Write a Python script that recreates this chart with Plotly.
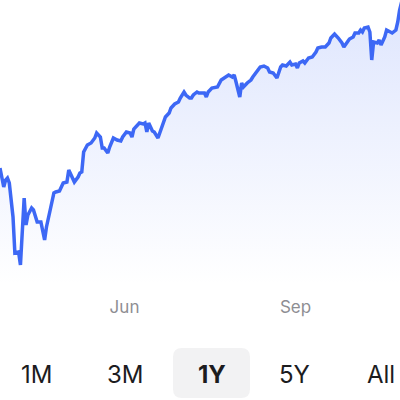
import plotly.graph_objects as go

# price history (daily closes, roughly)
dates = [
    "2024-03-26", "2024-03-28", "2024-03-29", "2024-03-30", "2024-03-31",
    "2024-04-01", "2024-04-02", "2024-04-03", "2024-04-05", "2024-04-06",
    "2024-04-08", "2024-04-09", "2024-04-10", "2024-04-12", "2024-04-13",
    "2024-04-15", "2024-04-17", "2024-04-19", "2024-04-20", "2024-04-22",
    "2024-04-24", "2024-04-25", "2024-04-27", "2024-04-29", "2024-05-01",
    "2024-05-02", "2024-05-04", "2024-05-05", "2024-05-07", "2024-05-08",
    "2024-05-09", "2024-05-10", "2024-05-12", "2024-05-14", "2024-05-16",
    "2024-05-17", "2024-05-19", "2024-05-20", "2024-05-21", "2024-05-23",
    "2024-05-24", "2024-05-26", "2024-05-28", "2024-05-30", "2024-05-31",
    "2024-06-02", "2024-06-04", "2024-06-05", "2024-06-06", "2024-06-07",
    "2024-06-09", "2024-06-11", "2024-06-12", "2024-06-13", "2024-06-14",
    "2024-06-16", "2024-06-17", "2024-06-19", "2024-06-21", "2024-06-23",
    "2024-06-25", "2024-06-26", "2024-06-28", "2024-06-30", "2024-07-01",
    "2024-07-03", "2024-07-04", "2024-07-06", "2024-07-07", "2024-07-08",
    "2024-07-10", "2024-07-11", "2024-07-12", "2024-07-14", "2024-07-15",
    "2024-07-16", "2024-07-18", "2024-07-20", "2024-07-21", "2024-07-23",
    "2024-07-25", "2024-07-27", "2024-07-29", "2024-07-30", "2024-07-31",
    "2024-08-02", "2024-08-03", "2024-08-04", "2024-08-06", "2024-08-08",
    "2024-08-09", "2024-08-11", "2024-08-13", "2024-08-15", "2024-08-17",
    "2024-08-18", "2024-08-20", "2024-08-22", "2024-08-23", "2024-08-24",
    "2024-08-25", "2024-08-27", "2024-08-29", "2024-08-30", "2024-09-01",
    "2024-09-02", "2024-09-03", "2024-09-05", "2024-09-06", "2024-09-08",
    "2024-09-10", "2024-09-12", "2024-09-13", "2024-09-15", "2024-09-17",
    "2024-09-19", "2024-09-20", "2024-09-22", "2024-09-24", "2024-09-26",
    "2024-09-27", "2024-09-29", "2024-09-30", "2024-10-02", "2024-10-03",
    "2024-10-05", "2024-10-06", "2024-10-07", "2024-10-08", "2024-10-10",
    "2024-10-11", "2024-10-12", "2024-10-13", "2024-10-15", "2024-10-16",
    "2024-10-17", "2024-10-19", "2024-10-20", "2024-10-22", "2024-10-23",
    "2024-10-25", "2024-10-26", "2024-10-27", "2024-10-29",
]
prices = [
    4535, 4440, 4475, 4485, 4460,
    4390, 4290, 4110, 4115, 4050,
    4385, 4250, 4300, 4335, 4325,
    4265, 4265, 4175, 4240, 4325,
    4410, 4415, 4420, 4460, 4465,
    4525, 4490, 4465, 4490, 4510,
    4515, 4615, 4650, 4660, 4685,
    4710, 4690, 4635, 4635, 4610,
    4640, 4685, 4675, 4670, 4690,
    4715, 4710, 4690, 4730, 4740,
    4760, 4755, 4760, 4715, 4760,
    4720, 4715, 4685, 4735, 4790,
    4810, 4835, 4855, 4865, 4885,
    4915, 4900, 4885, 4885, 4900,
    4915, 4910, 4910, 4910, 4890,
    4915, 4935, 4940, 4940, 4975,
    4990, 5000, 4990, 5000, 4965,
    4890, 4960, 4940, 4960, 4975,
    4990, 5015, 5040, 5045, 5035,
    5015, 5010, 4985, 5010, 5040,
    5050, 5045, 5065, 5050, 5055,
    5035, 5060, 5070, 5060, 5085,
    5090, 5115, 5135, 5140, 5140,
    5160, 5185, 5205, 5185, 5160,
    5140, 5165, 5180, 5190, 5210,
    5210, 5225, 5215, 5235, 5240,
    5215, 5075, 5165, 5160, 5175,
    5150, 5190, 5225, 5215, 5210,
    5225, 5265, 5325, 5400,
]

tick_dates = ["2024-06-01", "2024-09-01"]
tick_labels = ["Jun", "Sep"]

range_buttons = ["1M", "3M", "1Y", "5Y", "All"]
active_button = "1Y"

LINE = "#3d68f5"
W, H = 400, 400
PLOT_H = 295  # plot area height in px (top margin 0)
BUTTON_X = [36.5, 125, 212, 294.5, 381]  # label centres, px

fig = go.Figure(go.Scatter(
    x=dates,
    y=prices,
    mode="lines",
    line=dict(color=LINE, width=3.5),
    fill="tozeroy",
    fillgradient=dict(
        type="vertical",
        start=3950,
        stop=5375,
        colorscale=[[0, "rgba(61,104,245,0)"], [1, "rgba(61,104,245,0.17)"]],
    ),
    hoverinfo="skip",
))


def px_to_paper_y(py):
    return (PLOT_H - py) / PLOT_H


# range selector labels along the bottom
annotations = []
for label, cx in zip(range_buttons, BUTTON_X):
    text = f"<b>{label}</b>" if label == active_button else label
    annotations.append(dict(
        xref="paper", yref="paper",
        x=cx / W, y=px_to_paper_y(374),
        xanchor="center", yanchor="middle",
        text=text,
        font=dict(family="Inter", size=24, color="#1c1c1e"),
        showarrow=False,
    ))

# rounded grey pill behind the active range
active_cx = BUTTON_X[range_buttons.index(active_button)] - 0.5
hw, hh, r = 38.5, 25, 9
pill = (f"M {-hw + r},{-hh} L {hw - r},{-hh} Q {hw},{-hh} {hw},{-hh + r} "
        f"L {hw},{hh - r} Q {hw},{hh} {hw - r},{hh} L {-hw + r},{hh} "
        f"Q {-hw},{hh} {-hw},{hh - r} L {-hw},{-hh + r} Q {-hw},{-hh} {-hw + r},{-hh} Z")

fig.update_layout(
    width=W, height=H,
    margin=dict(l=0, r=0, t=0, b=H - PLOT_H),
    paper_bgcolor="white",
    plot_bgcolor="white",
    showlegend=False,
    annotations=annotations,
    shapes=[dict(
        type="path", path=pill,
        xref="paper", yref="paper",
        xsizemode="pixel", ysizemode="pixel",
        xanchor=active_cx / W, yanchor=px_to_paper_y(373),
        fillcolor="#f2f2f3", line=dict(width=0),
        layer="below",
    )],
    xaxis=dict(
        range=["2024-03-26", "2024-10-27 05:00"],
        tickvals=tick_dates,
        ticktext=tick_labels,
        showgrid=False, zeroline=False, showline=False,
        ticks="",
        tickfont=dict(family="Inter", size=17, color="#8e8e93"),
        fixedrange=True,
    ),
    yaxis=dict(
        range=[3900, 5375],
        visible=False,
        fixedrange=True,
    ),
)

# drop the default 8px body margin so the figure fills the window
fig.write_html("out.html", config={"displayModeBar": False},
               post_script="document.body.style.margin='0';")
